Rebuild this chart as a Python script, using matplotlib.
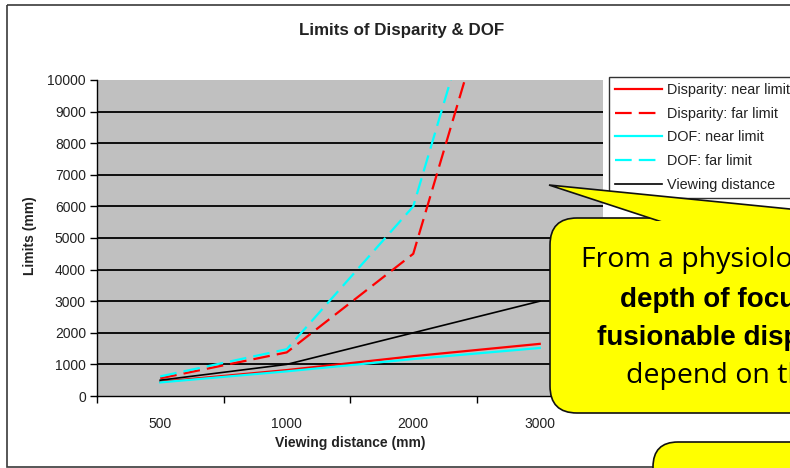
import matplotlib
matplotlib.use("Agg")
import matplotlib.pyplot as plt
import numpy as np
from matplotlib.patches import FancyBboxPatch, Polygon, Rectangle

plt.rcParams['font.family'] = ['Liberation Sans', 'DejaVu Sans']

# Viewing distance categories (mm)
distances = ["500", "1000", "2000", "3000"]

# Limits (mm) for each viewing distance
disparity_near = [450, 820, 1260, 1650]
disparity_far = [560, 1380, 4500, 18000]
dof_near = [430, 780, 1170, 1520]
dof_far = [620, 1480, 6000, 19500]
viewing = [500, 1000, 2000, 3000]

y_ticks = list(range(0, 10001, 1000))

series = [
    ("Disparity: near limit", disparity_near, "#FF0000", "-"),
    ("Disparity: far limit", disparity_far, "#FF0000", (0, (7.5, 3.2))),
    ("DOF: near limit", dof_near, "#00FFFF", "-"),
    ("DOF: far limit", dof_far, "#00FFFF", (0, (7.5, 3.2))),
    ("Viewing distance", viewing, "#000000", "-"),
]

W, H = 790, 468
fig = plt.figure(figsize=(W / 100, H / 100), dpi=100)
fig.patch.set_facecolor("white")

# Plot area
ax = fig.add_axes([97 / W, 1 - 396 / H, (603 - 97) / W, (396 - 80) / H])
ax.set_facecolor("#C0C0C0")
pos = np.arange(len(distances))
ax.set_xlim(-0.5, len(distances) - 0.5)
ax.set_ylim(y_ticks[0], y_ticks[-1])

# Horizontal gridlines (not at the top edge)
ax.hlines(y_ticks[1:-1], -0.5, len(distances) - 0.5, colors="black", lw=1.3, zorder=1)

handles = []
for name, vals, col, ls in series:
    lw = 1.2 if col == "#000000" else 1.6
    ln, = ax.plot(pos, vals, color=col, ls=ls, lw=lw, zorder=3, label=name)
    handles.append(ln)

for s in ["top", "right"]:
    ax.spines[s].set_visible(False)
for s in ["left", "bottom"]:
    ax.spines[s].set_color("black")
    ax.spines[s].set_linewidth(1.0)

ax.set_yticks(y_ticks)
ax.set_yticklabels([str(v) for v in y_ticks], fontsize=10, color="#222222")
ax.tick_params(axis="y", length=5, width=1, direction="out", pad=3, color="black")

ax.set_xticks(pos)
ax.set_xticklabels(distances, fontsize=10, color="#222222")
ax.tick_params(axis="x", which="major", length=0, pad=15)
ax.set_xticks(np.arange(-0.5, len(distances), 1.0), minor=True)
ax.tick_params(axis="x", which="minor", length=5, width=1, direction="out", color="black")

# Titles and axis labels
fig.text(402 / W, 1 - 31 / H, "Limits of Disparity & DOF", ha="center", va="center",
         fontsize=12.2, fontweight="bold", color="#222222")
fig.text(30 / W, 1 - 236 / H, "Limits (mm)", ha="center", va="center", rotation=90,
         fontsize=10, fontweight="bold", color="#222222")
fig.text(350 / W, 1 - 443 / H, "Viewing distance (mm)", ha="center", va="center",
         fontsize=10, fontweight="bold", color="#222222")

# Legend
leg = fig.legend(handles=handles, loc="upper left", bbox_to_anchor=(609 / W, 1 - 77 / H),
                 fontsize=10.4, frameon=True, fancybox=False, edgecolor="black",
                 handlelength=3.3, handletextpad=0.3, borderpad=0.4, labelspacing=0.68,
                 borderaxespad=0)
leg.get_frame().set_linewidth(1.0)
for t in leg.get_texts():
    t.set_color("#222222")

# Overlay in pixel coordinates for the chart frame and callouts
ov = fig.add_axes([0, 0, 1, 1], zorder=10)
ov.set_xlim(0, W)
ov.set_ylim(H, 0)
ov.axis("off")
ov.patch.set_alpha(0)

ov.add_patch(Rectangle((7, 5), 900, 462, fill=False, edgecolor="#3a3a3a", lw=1.2))

yellow = "#FFFF00"
edge = "#111111"
ov.add_patch(FancyBboxPatch((550, 218), 320, 195, boxstyle="round,pad=0,rounding_size=27",
                            facecolor=yellow, edgecolor=edge, lw=1.2))
ov.add_patch(Polygon([(549, 185), (662, 222), (830, 222), (830, 213)], closed=True,
                     facecolor=yellow, edgecolor=edge, lw=1.2, joinstyle="miter"))
ov.add_patch(FancyBboxPatch((552.5, 221), 320, 189.5, boxstyle="round,pad=0,rounding_size=25",
                            facecolor=yellow, edgecolor="none"))

ov.add_patch(FancyBboxPatch((653, 442), 300, 100, boxstyle="round,pad=0,rounding_size=25",
                            facecolor=yellow, edgecolor=edge, lw=1.2))

callout_lines = [
    (581, 267, "From a physiological point of view,", "normal", "Open Sans", 20.5),
    (620, 307, "depth of focus and", "bold", "Liberation Sans", 20),
    (597, 345, "fusionable disparity", "bold", "Liberation Sans", 20),
    (626, 383, "depend on the viewing distance", "normal", "Open Sans", 20.5),
]
for x, y, txt, wt, fam, fs in callout_lines:
    ov.text(x, y, txt, ha="left", va="baseline", fontsize=fs, fontweight=wt,
            family=[fam, "DejaVu Sans"], color="black")

fig.savefig("out.png", dpi=100)
